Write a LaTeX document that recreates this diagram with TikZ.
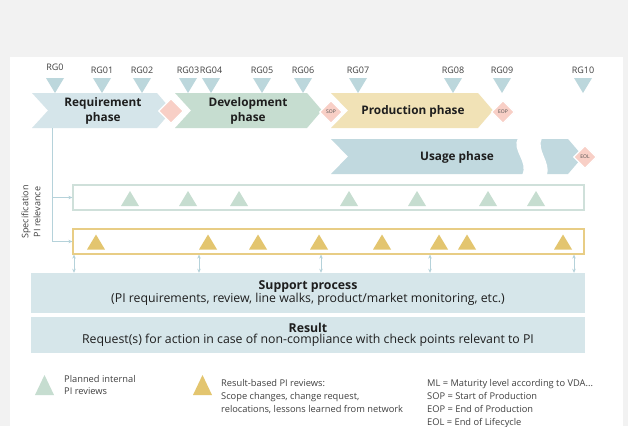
\documentclass[tikz,border=0pt]{standalone}
\usepackage{fontspec}
\setmainfont{Open Sans}
\usetikzlibrary{arrows.meta,shapes.geometric}
\definecolor{bggrey}{HTML}{F2F2F2}
\definecolor{reqc}{HTML}{D5E5EA}
\definecolor{devc}{HTML}{C6DDD0}
\definecolor{prodc}{HTML}{F1E2B6}
\definecolor{usec}{HTML}{C1D9DF}
\definecolor{diac}{HTML}{F8CFC6}
\definecolor{rgc}{HTML}{BCD7DC}
\definecolor{greentri}{HTML}{C6DDD0}
\definecolor{yeltri}{HTML}{E3C56F}
\definecolor{box1c}{HTML}{CFE0DA}
\definecolor{box2c}{HTML}{E8CD85}
\definecolor{supc}{HTML}{D6E6EA}
\definecolor{connc}{HTML}{B5D2DA}
\definecolor{txtc}{HTML}{1E1E1E}
\begin{document}
\begin{tikzpicture}[x=1pt,y=-1pt,
  rglabel/.style={font=\fontsize{9}{10}\selectfont, text=txtc!85, inner sep=0},
  phasetxt/.style={font=\fontsize{11.8}{15}\selectfont\bfseries, text=txtc, align=center, inner sep=0},
  dia/.style={diamond, aspect=1, fill=diac, draw=white, line width=1.2pt, inner sep=0, font=\fontsize{5}{6}\selectfont, text=txtc!80},
  conn/.style={draw=connc, line width=0.8pt},
  tip/.style={-{Stealth[length=4pt,width=3.5pt]}},
  dtip/.style={{Stealth[length=4pt,width=3.5pt]}-{Stealth[length=4pt,width=3.5pt]}},
  rowbox/.style={draw, line width=1.2pt, minimum width=511pt, minimum height=25pt, inner sep=0},
  infobox/.style={fill=supc, minimum width=554pt, inner sep=0, align=center, text=txtc},
  legtxt/.style={font=\fontsize{9.3}{13}\selectfont, text=txtc!85, align=left, inner sep=0, anchor=north west},
  rgtri/.pic={\fill[rgc] (-9,-7.5) -- (9,-7.5) -- (0,7.5) -- cycle;},
  gtri/.pic={\fill[greentri] (-9,7.5) -- (9,7.5) -- (0,-7.5) -- cycle;},
  ytri/.pic={\fill[yeltri] (-9,7.5) -- (9,7.5) -- (0,-7.5) -- cycle;},
  glegtri/.pic={\fill[greentri] (-9.5,10) -- (9.5,10) -- (0,-10) -- cycle;},
  ylegtri/.pic={\fill[yeltri] (-9.5,10) -- (9.5,10) -- (0,-10) -- cycle;}
]
\useasboundingbox (0,0) rectangle (628,426);
\fill[bggrey] (0,0) rectangle (628,426);
\fill[white] (10,57) rectangle (623,426);

% RG labels and triangles
\foreach \x/\t/\yy in {55/RG0/67, 102/RG01/70, 142/RG02/70, 188/RG03/70, 211/RG04/70, 262/RG05/70, 303/RG06/70, 358/RG07/70, 453/RG08/70, 502/RG09/70, 583/RG10/70}{
  \node[rglabel] (lab\t) at (\x,\yy) {\t};
  \pic at (\x,85.5) {rgtri};
}

% phase chevrons
\fill[reqc] (32,93) -- (157,93) -- (172,110.5) -- (157,128) -- (32,128) -- (48,110.5) -- cycle;
\fill[devc] (175,93) -- (307,93) -- (322,110.5) -- (307,128) -- (175,128) -- (191,110.5) -- cycle;
\fill[prodc] (331,93) -- (478,93) -- (493,110.5) -- (478,128) -- (331,128) -- (348,110.5) -- cycle;
\fill[usec] (331,139) -- (568,139) -- (583,156.5) -- (568,174) -- (331,174) -- (348,156.5) -- cycle;
\fill[white] (518,138) .. controls (511,150) and (529,162) .. (522,175) -- (547,175) .. controls (551,162) and (536,150) .. (542,138) -- cycle;

\node[phasetxt] (req) at (103,110.5) {Requirement\\phase};
\node[phasetxt] (dev) at (248,110.5) {Development\\phase};
\node[phasetxt] (prod) at (413,111) {Production phase};
\node[phasetxt] (use) at (457,157) {Usage phase};

\node[dia, minimum width=25pt, minimum height=25pt] (d1) at (171,111) {};
\node[dia, minimum width=23pt, minimum height=23pt] (sop) at (331,112) {SOP};
\node[dia, minimum width=23pt, minimum height=23pt] (eop) at (503,112) {EOP};
\node[dia, minimum width=23pt, minimum height=23pt] (eol) at (585,157) {EOL};

% rows
\node[rowbox, draw=box1c] (box1) at (328.5,197.5) {};
\node[rowbox, draw=box2c] (box2) at (328.5,241.5) {};
\foreach \x in {130,188,239,349,417,488,536}{\pic at (\x,198.5) {gtri};}
\foreach \x in {96,208,258,319,382,439,467,563}{\pic at (\x,242) {ytri};}

\coordinate (vtop) at (52,128);
\draw[conn,tip] (vtop) |- (box1.west);
\draw[conn,tip] (vtop) |- (box2.west);

\node[rotate=90, font=\fontsize{9}{12}\selectfont, text=txtc!85, align=center, inner sep=0] (spec) at (31,212) {Specification\\PI relevance};

% support & result
\node[infobox, minimum height=40pt] (sup) at (308,293) {{\fontsize{12.3}{14.5}\selectfont\bfseries Support process}\\[-1pt]{\fontsize{12.3}{14.5}\selectfont (PI requirements, review, line walks, product/market monitoring, etc.)}};
\node[infobox, minimum height=36pt] (res) at (308,335) {{\fontsize{12.3}{14.5}\selectfont\bfseries Result}\\[-1pt]{\fontsize{12.3}{14.5}\selectfont Request(s) for action in case of non-compliance with check points relevant to PI}};

\foreach \x [count=\i] in {74,199,321,430,574}{
  \coordinate (a\i) at (\x,0);
  \draw[conn,dtip] (box2.south -| a\i) -- (sup.north -| a\i);
}

% legend
\pic at (44.5,385) {glegtri};
\node[legtxt, font=\fontsize{9.3}{12}\selectfont] (leg1) at (64,375) {Planned internal\\PI reviews};
\pic at (202.5,385) {ylegtri};
\node[legtxt] (leg2) at (221,379) {Result-based PI reviews:\\Scope changes, change request,\\relocations, lessons learned from network};
\node[legtxt] (leg3) at (427,379) {ML = Maturity level according to VDA...\\SOP = Start of Production\\EOP = End of Production\\EOL = End of Lifecycle};
\end{tikzpicture}
\end{document}
